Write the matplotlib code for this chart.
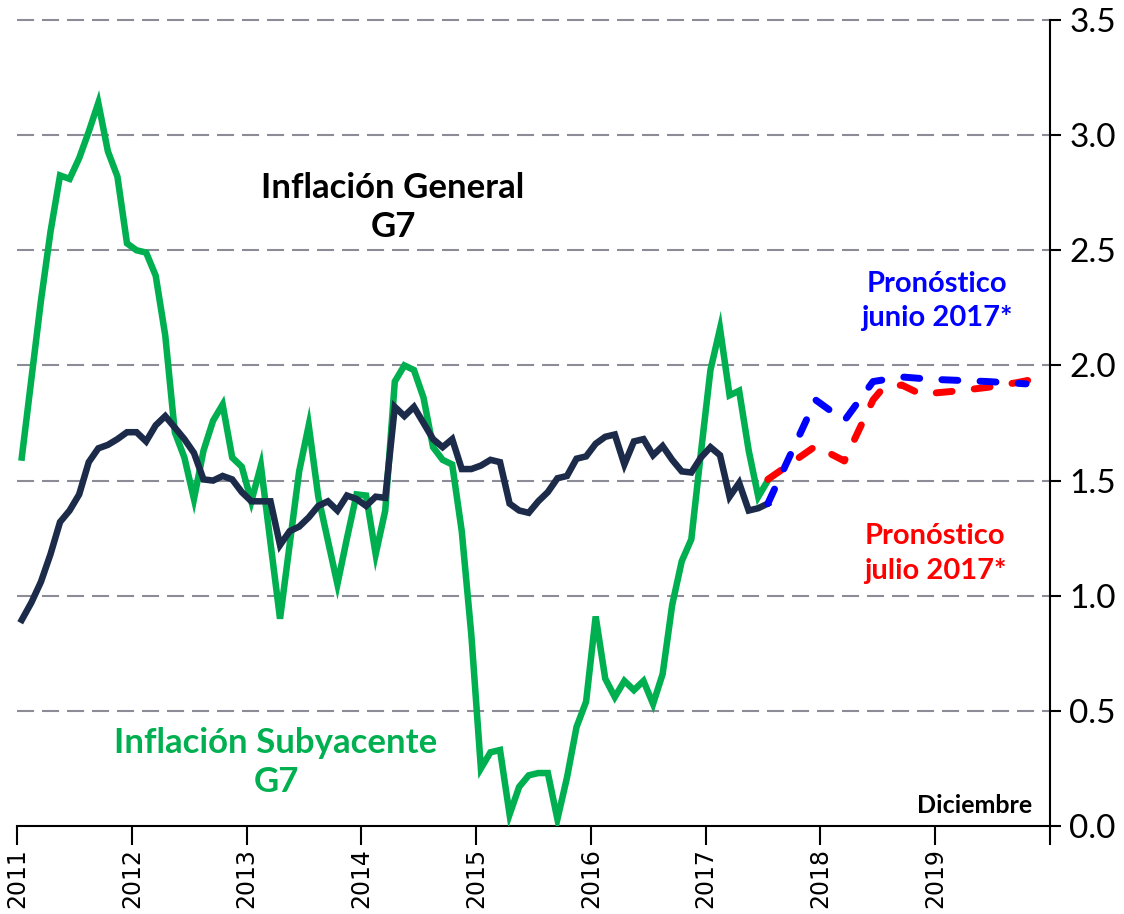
import matplotlib
matplotlib.use("Agg")
import matplotlib.pyplot as plt
import numpy as np

# ---- data (monthly, Jan 2011 = month 0) ----
green_vals = [1.60, 1.94, 2.28, 2.58, 2.825, 2.81, 2.90, 3.015, 3.14, 2.93,
              2.82, 2.53, 2.50, 2.49, 2.39, 2.13, 1.71, 1.60, 1.42, 1.63,
              1.76, 1.83, 1.60, 1.56, 1.41, 1.565, 1.23, 0.90, 1.22, 1.54,
              1.74, 1.43, 1.24, 1.05, 1.25, 1.44, 1.435, 1.18, 1.37, 1.93,
              2.00, 1.98, 1.86, 1.645, 1.59, 1.57, 1.28, 0.83, 0.25, 0.32,
              0.33, 0.05, 0.17, 0.22, 0.23, 0.23, 0.03, 0.21, 0.43, 0.54,
              0.91, 0.64, 0.56, 0.63, 0.59, 0.63, 0.53, 0.66, 0.96, 1.15,
              1.245, 1.62, 1.98, 2.16, 1.87, 1.89, 1.63, 1.43, 1.50]
dark_vals = [0.895, 0.97, 1.06, 1.18, 1.32, 1.37, 1.44, 1.58, 1.64, 1.655,
             1.68, 1.71, 1.71, 1.67, 1.74, 1.78, 1.73, 1.68, 1.62, 1.505,
             1.50, 1.52, 1.505, 1.45, 1.41, 1.41, 1.41, 1.22, 1.28, 1.30,
             1.34, 1.39, 1.41, 1.37, 1.435, 1.42, 1.39, 1.43, 1.425, 1.82,
             1.78, 1.82, 1.75, 1.68, 1.645, 1.68, 1.55, 1.55, 1.565, 1.59,
             1.58, 1.40, 1.37, 1.36, 1.41, 1.45, 1.51, 1.52, 1.595, 1.605,
             1.66, 1.69, 1.70, 1.57, 1.67, 1.68, 1.61, 1.65, 1.59, 1.54,
             1.535, 1.60, 1.645, 1.61, 1.43, 1.49, 1.37, 1.38, 1.40]
blue_months = [78, 83, 86, 89, 92, 95, 98, 101, 105]
blue_vals = [1.40, 1.85, 1.76, 1.93, 1.95, 1.94, 1.935, 1.93, 1.92]
red_months = [78, 83, 86, 89, 90, 92, 94, 98, 101, 104, 107]
red_vals = [1.505, 1.65, 1.585, 1.85, 1.90, 1.915, 1.875, 1.89, 1.905, 1.925, 1.95]

year_ticks = list(range(2011, 2021))
year_labels = [str(y) for y in range(2011, 2020)] + [""]
y_ticks = [0.0, 0.5, 1.0, 1.5, 2.0, 2.5, 3.0, 3.5]
y_labels = ["0.0", "0.5", "1.0", "1.5", "2.0", "2.5", "3.0", "3.5"]

def mx(months):
    return 2011 + (np.asarray(months, dtype=float) + 0.5) / 12.0

GREEN = "#00B050"
NAVY = "#1B2B49"
GRID = "#8C8C96"

fig = plt.figure(figsize=(11.24, 9.14), dpi=100)
ax = fig.add_axes([17 / 1124, 1 - 826 / 914, (1050 - 17) / 1124, (826 - 20) / 914])

ax.set_xlim(2011, 2020)
ax.set_ylim(0, 3.5)

for yv in y_ticks[1:]:
    ax.axhline(yv, color=GRID, lw=1.5, dashes=(8.2, 3.8), zorder=1, clip_on=False)

m = np.arange(len(green_vals))
ax.plot(mx(m), green_vals, color=GREEN, lw=4.7, solid_joinstyle="miter", zorder=3)
ax.plot(mx(np.arange(len(dark_vals))), dark_vals, color=NAVY, lw=4.7,
        solid_joinstyle="miter", zorder=4)
ax.plot(mx(red_months), red_vals, color="#FF0000", lw=5, dashes=(2.3, 3.2),
        dash_capstyle="round", zorder=5)
ax.plot(mx(blue_months), blue_vals, color="#0000FF", lw=5, dashes=(2.3, 3.2),
        dash_capstyle="round", zorder=6)

# axes styling
for s in ("left", "top"):
    ax.spines[s].set_visible(False)
ax.spines["right"].set_linewidth(1.5)
ax.spines["bottom"].set_linewidth(1.5)
ax.yaxis.tick_right()
ax.set_yticks(y_ticks)
ax.set_yticklabels(y_labels, fontfamily="Lato", fontsize=24)
ax.tick_params(axis="y", direction="out", length=8, width=1.5, pad=6)
ax.set_xticks(year_ticks)
ax.set_xticklabels(year_labels, rotation=90, fontfamily="DejaVu Sans", fontsize=17)
ax.tick_params(axis="x", direction="out", length=14, width=1.5, pad=2)

# annotations
ax.text(2014.276, 2.686, "Inflación General\nG7", ha="center", va="center",
        fontfamily="Lato", fontweight="bold", fontsize=25, color="black",
        linespacing=1.3, zorder=7)
ax.text(2013.256, 0.276, "Inflación Subyacente\nG7", ha="center", va="center",
        fontfamily="Lato", fontweight="bold", fontsize=25, color=GREEN,
        linespacing=1.3, zorder=7)
ax.text(2019.015, 2.28, "Pronóstico\njunio 2017*", ha="center", va="center",
        fontfamily="Lato", fontweight="bold", fontsize=21, color="#0000FF",
        linespacing=1.4, zorder=7)
ax.text(2018.998, 1.183, "Pronóstico\njulio 2017*", ha="center", va="center",
        fontfamily="Lato", fontweight="bold", fontsize=21, color="#FF0000",
        linespacing=1.4, zorder=7)
ax.text(2019.843, 0.091, "Diciembre", ha="right", va="center",
        fontfamily="Lato", fontweight="bold", fontsize=18, color="black", zorder=7)

fig.savefig("out.png", dpi=100)
